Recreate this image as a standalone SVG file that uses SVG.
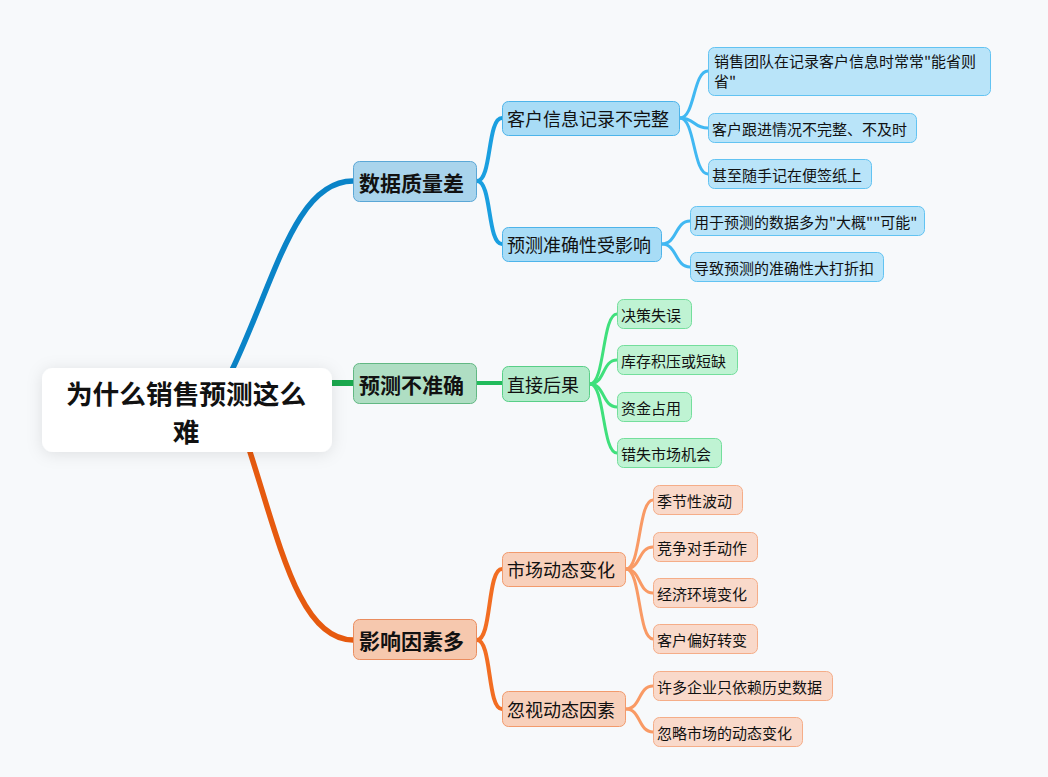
<svg xmlns="http://www.w3.org/2000/svg" width="1048" height="777" viewBox="0 0 1048 777">
<defs>
<filter id="sh" x="-20%" y="-40%" width="140%" height="180%">
<feDropShadow dx="0" dy="2" stdDeviation="8" flood-color="#000" flood-opacity="0.10"/>
</filter>
</defs>
<style>
text{font-family:"Noto Sans CJK SC","Noto Sans",sans-serif;fill:#111;dominant-baseline:central}
.root{font-size:26.7px;font-weight:bold;text-anchor:middle}
.l1t{font-size:21px;font-weight:bold}
.l2t{font-size:18px}
.l3t{font-size:15px}
.c{fill:none;stroke-linecap:round}
.b1{fill:#a9d4ec;stroke:#5aa7d6;stroke-width:1}
.b2{fill:#a8dcf6;stroke:#4db4ea;stroke-width:1}
.b3{fill:#b9e4f9;stroke:#62c3f2;stroke-width:1}
.g1{fill:#afdec3;stroke:#62b883;stroke-width:1}
.g2{fill:#b3ebcb;stroke:#58cf87;stroke-width:1}
.g3{fill:#bff3d3;stroke:#74de9c;stroke-width:1}
.o1{fill:#f6c8ae;stroke:#ea8d5f;stroke-width:1}
.o2{fill:#f8d0bb;stroke:#f29a6c;stroke-width:1}
.o3{fill:#f9d9ca;stroke:#f5ad88;stroke-width:1}
</style>
<rect width="1048" height="777" fill="#f7f9fb"/>
<g id="connectors">
<path class="c" d="M232,370 C275,280 295,181 353,181" stroke="#0a84c8" stroke-width="5.5"/>
<path class="c" d="M332,383 L353,383" stroke="#1aa84e" stroke-width="6"/>
<path class="c" d="M250,452 C280,545 300,640 353,640" stroke="#e65a0f" stroke-width="5.5"/>
<path class="c" d="M477,181 C492,181 487,118 502,118" stroke="#1a9fe0" stroke-width="4"/>
<path class="c" d="M477,181 C492,181 487,244 502,244" stroke="#1a9fe0" stroke-width="4"/>
<path class="c" d="M477,383 L502,383" stroke="#22bb5c" stroke-width="4"/>
<path class="c" d="M477,640 C492,640 487,569 502,569" stroke="#f26d22" stroke-width="4"/>
<path class="c" d="M477,640 C492,640 487,709 502,709" stroke="#f26d22" stroke-width="4"/>
<path class="c" d="M680,118 C695,118 693,71 708,71" stroke="#41b8f2" stroke-width="3"/>
<path class="c" d="M680,118 C695,118 693,128 708,128" stroke="#41b8f2" stroke-width="3"/>
<path class="c" d="M680,118 C695,118 693,174 708,174" stroke="#41b8f2" stroke-width="3"/>
<path class="c" d="M662,244 C677,244 675,221 690,221" stroke="#41b8f2" stroke-width="3"/>
<path class="c" d="M662,244 C677,244 675,267 690,267" stroke="#41b8f2" stroke-width="3"/>
<path class="c" d="M590,384 C605,384 602,314 617,314" stroke="#3fe07c" stroke-width="3"/>
<path class="c" d="M590,384 C605,384 602,360 617,360" stroke="#3fe07c" stroke-width="3"/>
<path class="c" d="M590,384 C605,384 602,407 617,407" stroke="#3fe07c" stroke-width="3"/>
<path class="c" d="M590,384 C605,384 602,453 617,453" stroke="#3fe07c" stroke-width="3"/>
<path class="c" d="M626,569 C641,569 638,500 653,500" stroke="#f99a65" stroke-width="3"/>
<path class="c" d="M626,569 C641,569 638,547 653,547" stroke="#f99a65" stroke-width="3"/>
<path class="c" d="M626,569 C641,569 638,593 653,593" stroke="#f99a65" stroke-width="3"/>
<path class="c" d="M626,569 C641,569 638,639 653,639" stroke="#f99a65" stroke-width="3"/>
<path class="c" d="M626,709 C641,709 638,686 653,686" stroke="#f99a65" stroke-width="3"/>
<path class="c" d="M626,709 C641,709 638,732 653,732" stroke="#f99a65" stroke-width="3"/>
</g>
<g id="root">
<rect x="42" y="368" width="290" height="84" rx="11" fill="#fff" filter="url(#sh)"/>
<text class="root" x="186" y="392">为什么销售预测这么</text>
<text class="root" x="186" y="430">难</text>
</g>
<g id="n-data-quality">
<rect class="b1" x="353.5" y="161.5" width="123" height="40" rx="6"/>
<text class="l1t" x="359" y="182">数据质量差</text>
</g>
<g id="n-record">
<rect class="b2" x="502.5" y="101.5" width="177" height="34" rx="6"/>
<text class="l2t" x="507" y="118">客户信息记录不完整</text>
</g>
<g id="n-accuracy">
<rect class="b2" x="502.5" y="227.5" width="159" height="34" rx="6"/>
<text class="l2t" x="507" y="244">预测准确性受影响</text>
</g>
<g id="n-r1">
<rect class="b3" x="708.5" y="47.5" width="282" height="48" rx="6"/>
<text class="l3t" x="714" y="60">销售团队在记录客户信息时常常"能省则</text>
<text class="l3t" x="714" y="80">省"</text>
</g>
<g id="n-r2">
<rect class="b3" x="708.5" y="113.5" width="208" height="29" rx="6"/>
<text class="l3t" x="712" y="128">客户跟进情况不完整、不及时</text>
</g>
<g id="n-r3">
<rect class="b3" x="708.5" y="159.5" width="163" height="29" rx="6"/>
<text class="l3t" x="712" y="174">甚至随手记在便签纸上</text>
</g>
<g id="n-a1">
<rect class="b3" x="690.5" y="206.5" width="234" height="29" rx="6"/>
<text class="l3t" x="694" y="221">用于预测的数据多为"大概""可能"</text>
</g>
<g id="n-a2">
<rect class="b3" x="690.5" y="252.5" width="193" height="29" rx="6"/>
<text class="l3t" x="694" y="267">导致预测的准确性大打折扣</text>
</g>
<g id="n-inaccurate">
<rect class="g1" x="353.5" y="363.5" width="123" height="40" rx="6"/>
<text class="l1t" x="359" y="384">预测不准确</text>
</g>
<g id="n-consequence">
<rect class="g2" x="502.5" y="366.5" width="87" height="35" rx="6"/>
<text class="l2t" x="507" y="384">直接后果</text>
</g>
<g id="n-c1">
<rect class="g3" x="617.5" y="299.5" width="74" height="29" rx="6"/>
<text class="l3t" x="621" y="314">决策失误</text>
</g>
<g id="n-c2">
<rect class="g3" x="617.5" y="345.5" width="120" height="29" rx="6"/>
<text class="l3t" x="621" y="360">库存积压或短缺</text>
</g>
<g id="n-c3">
<rect class="g3" x="617.5" y="392.5" width="74" height="29" rx="6"/>
<text class="l3t" x="621" y="407">资金占用</text>
</g>
<g id="n-c4">
<rect class="g3" x="617.5" y="438.5" width="104" height="29" rx="6"/>
<text class="l3t" x="621" y="453">错失市场机会</text>
</g>
<g id="n-factors">
<rect class="o1" x="353.5" y="619.5" width="123" height="40" rx="6"/>
<text class="l1t" x="359" y="640">影响因素多</text>
</g>
<g id="n-market">
<rect class="o2" x="502.5" y="552.5" width="123" height="34" rx="6"/>
<text class="l2t" x="507" y="569">市场动态变化</text>
</g>
<g id="n-ignore">
<rect class="o2" x="502.5" y="691.5" width="123" height="35" rx="6"/>
<text class="l2t" x="507" y="709">忽视动态因素</text>
</g>
<g id="n-m1">
<rect class="o3" x="653.5" y="485.5" width="89" height="29" rx="6"/>
<text class="l3t" x="657" y="500">季节性波动</text>
</g>
<g id="n-m2">
<rect class="o3" x="653.5" y="532.5" width="104" height="29" rx="6"/>
<text class="l3t" x="657" y="547">竞争对手动作</text>
</g>
<g id="n-m3">
<rect class="o3" x="653.5" y="578.5" width="104" height="29" rx="6"/>
<text class="l3t" x="657" y="593">经济环境变化</text>
</g>
<g id="n-m4">
<rect class="o3" x="653.5" y="624.5" width="104" height="29" rx="6"/>
<text class="l3t" x="657" y="639">客户偏好转变</text>
</g>
<g id="n-i1">
<rect class="o3" x="653.5" y="671.5" width="179" height="29" rx="6"/>
<text class="l3t" x="657" y="686">许多企业只依赖历史数据</text>
</g>
<g id="n-i2">
<rect class="o3" x="653.5" y="717.5" width="149" height="29" rx="6"/>
<text class="l3t" x="657" y="732">忽略市场的动态变化</text>
</g>
</svg>
